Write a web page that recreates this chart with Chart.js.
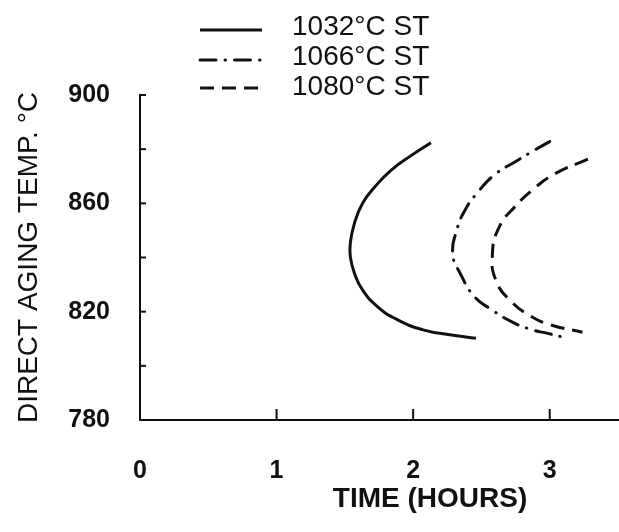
<!DOCTYPE html>
<html>
<head>
<meta charset="utf-8">
<script src="https://cdn.jsdelivr.net/npm/chart.js@4.4.1/dist/chart.umd.min.js"></script>
<style>
  html, body { margin: 0; padding: 0; background: #fff; }
  canvas { display: block; }
</style>
</head>
<body>
<canvas id="myChart" width="619" height="532"></canvas>
<script>
// curves, top end -> nose -> bottom end
const hours1032 = [2.13, 1.99, 1.84, 1.72, 1.63, 1.57, 1.54, 1.54, 1.57, 1.63, 1.74, 1.89, 2.08, 2.28, 2.46];
const temps1032 = [882.4, 877.8, 872.3, 866.1, 860.0, 852.6, 845.2, 840.3, 834.2, 828.0, 821.8, 816.9, 813.2, 811.4, 810.2];

const hours1066 = [3.00, 2.88, 2.76, 2.60, 2.47, 2.38, 2.32, 2.29, 2.35, 2.45, 2.57, 2.72, 2.86, 3.00, 3.13];
const temps1066 = [882.8, 879.4, 875.7, 870.7, 863.9, 857.5, 850.2, 841.3, 833.6, 825.5, 820.9, 816.3, 813.5, 811.8, 810.2];

const hours1080 = [3.28, 3.03, 2.88, 2.75, 2.63, 2.58, 2.61, 2.72, 2.85, 2.99, 3.24];
const temps1080 = [876.3, 870.7, 865.2, 859.0, 851.2, 840.9, 831.1, 823.7, 818.7, 815.4, 812.4];

const seriesLabels = ['1032°C ST', '1066°C ST', '1080°C ST'];
const xTicks = [0, 1, 2, 3];
const yTicks = [780, 800, 820, 840, 860, 880, 900];
const yLabelled = [780, 820, 860, 900];

const ink = '#111';
const fontFamily = '"Liberation Sans", Arial, Helvetica, sans-serif';

function toPoints(xs, ys) {
    return xs.map((h, i) => ({ x: h, y: ys[i] }));
}

function line(ctx, x1, y1, x2, y2) {
    ctx.beginPath();
    ctx.moveTo(x1, y1);
    ctx.lineTo(x2, y2);
    ctx.stroke();
}

// inward tick marks, x title and the stacked legend
const figurePlugin = {
    id: 'figure',
    afterDraw(chart) {
        const { ctx, scales: { x, y } } = chart;
        ctx.save();
        ctx.strokeStyle = ink;
        ctx.lineWidth = 2;
        yTicks.forEach(v => {
            const py = y.getPixelForValue(v);
            line(ctx, x.left, py, x.left + 6, py);
        });
        xTicks.slice(1).forEach(v => {
            const px = x.getPixelForValue(v);
            line(ctx, px, y.bottom, px, y.bottom - 11);
        });

        ctx.fillStyle = ink;
        ctx.font = 'bold 28px ' + fontFamily;
        ctx.textAlign = 'center';
        ctx.textBaseline = 'middle';
        ctx.fillText('TIME (HOURS)', 430, 499);

        const lineRows = [30, 60, 88];
        const textRows = [35, 65, 95];
        ctx.font = '28px ' + fontFamily;
        ctx.textAlign = 'left';
        ctx.textBaseline = 'alphabetic';
        chart.data.datasets.forEach((ds, i) => {
            ctx.lineWidth = 3;
            ctx.lineCap = ds.borderCapStyle || 'butt';
            ctx.setLineDash(ds.borderDash || []);
            line(ctx, 200, lineRows[i], 262, lineRows[i]);
            ctx.setLineDash([]);
            ctx.fillText(ds.label, 292, textRows[i]);
        });
        ctx.restore();
    }
};

const ctx = document.getElementById('myChart').getContext('2d');

new Chart(ctx, {
    type: 'scatter',
    data: {
        datasets: [
            { label: seriesLabels[0], data: toPoints(hours1032, temps1032), borderDash: [], borderCapStyle: 'butt' },
            { label: seriesLabels[1], data: toPoints(hours1066, temps1066), borderDash: [16, 9, 0.5, 9], borderCapStyle: 'round' },
            { label: seriesLabels[2], data: toPoints(hours1080, temps1080), borderDash: [14, 8], borderCapStyle: 'butt' }
        ].map(ds => Object.assign(ds, {
            showLine: true,
            tension: 0.5,
            borderColor: ink,
            borderWidth: 3,
            pointRadius: 0,
            fill: false
        }))
    },
    options: {
        responsive: false,
        animation: false,
        layout: { padding: { top: 95, right: 1, left: 0, bottom: 0 } },
        plugins: {
            legend: { display: false },
            tooltip: { enabled: false }
        },
        scales: {
            x: {
                type: 'linear',
                min: 0,
                max: 3.5,
                afterBuildTicks: s => { s.ticks = xTicks.map(v => ({ value: v })); },
                afterFit: s => { s.height = 112; },
                grid: { display: false, drawTicks: false },
                border: { display: true, color: ink, width: 2 },
                ticks: {
                    color: ink,
                    padding: 36,
                    maxRotation: 0,
                    autoSkip: false,
                    font: { family: fontFamily, size: 25, weight: 'bold' }
                }
            },
            y: {
                min: 780,
                max: 900,
                afterBuildTicks: s => { s.ticks = yTicks.map(v => ({ value: v })); },
                afterFit: s => { s.width = 140; },
                grid: { display: false, drawTicks: false },
                border: { display: true, color: ink, width: 2 },
                ticks: {
                    color: ink,
                    padding: 30,
                    autoSkip: false,
                    callback: v => yLabelled.includes(v) ? String(v) : '',
                    font: { family: fontFamily, size: 25, weight: 'bold' }
                },
                title: {
                    display: true,
                    text: 'DIRECT AGING TEMP. °C',
                    color: ink,
                    padding: { top: 12, bottom: 0 },
                    font: { family: fontFamily, size: 28 }
                }
            }
        }
    },
    plugins: [figurePlugin]
});
</script>
</body>
</html>
